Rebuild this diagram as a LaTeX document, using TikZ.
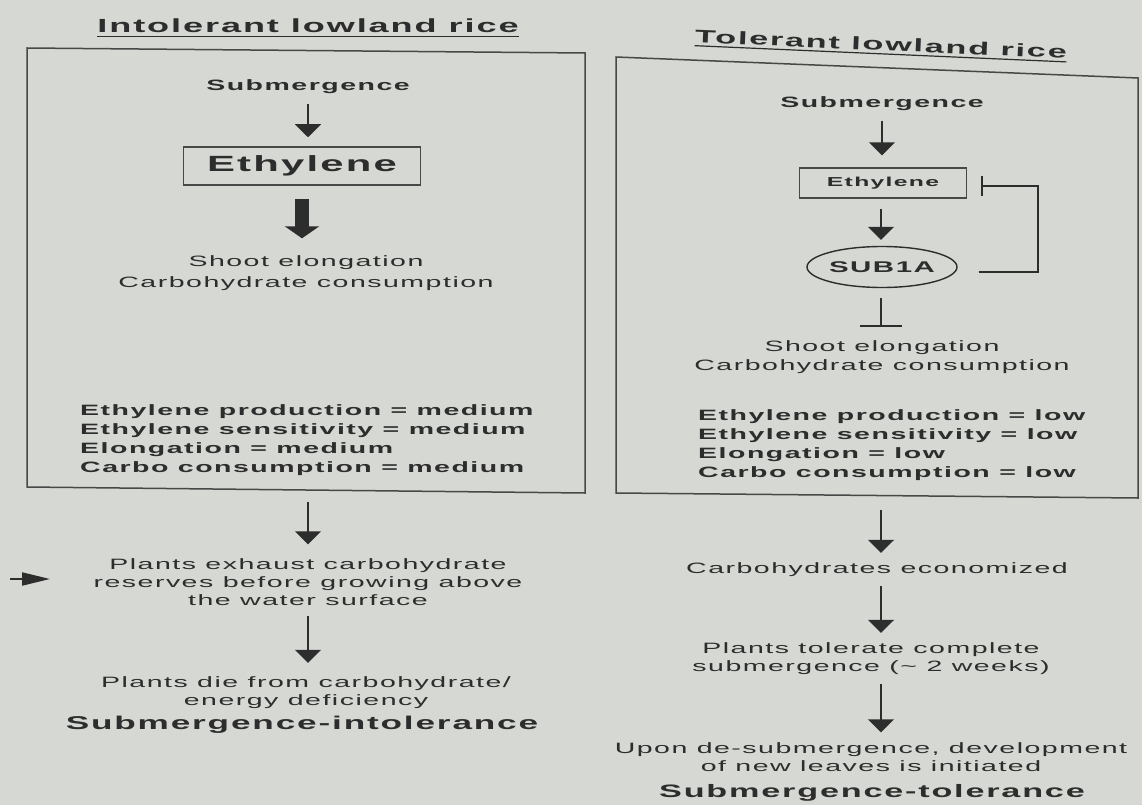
\documentclass[tikz,border=0pt]{standalone}
\usepackage{fontspec}
\setmainfont{Liberation Sans}[FakeStretch=1.9,LetterSpace=10]
\usetikzlibrary{arrows.meta,shapes.geometric}
\definecolor{bg}{RGB}{213,216,211}
\definecolor{ink}{RGB}{45,45,45}
\definecolor{boxc}{RGB}{72,72,72}
\begin{document}
\begin{tikzpicture}[x=1pt,y=-1pt,
  txt/.style={text=ink,align=center,inner sep=0pt,font=\fontsize{15}{18}\selectfont},
  btxt/.style={txt,font=\fontsize{15}{18}\selectfont\bfseries},
  stat/.style={txt,align=left,font=\fontsize{15}{19}\selectfont\bfseries},
  ttl/.style={text=ink,inner sep=0pt,font=\fontsize{19}{21}\selectfont\bfseries},
  big/.style={text=ink,inner sep=0pt,font=\fontsize{18.5}{22}\selectfont\bfseries},
  arr/.style={draw=ink,line width=1.8,-{Triangle[width=26pt,length=13pt]}},
  thick arr/.style={draw=ink,line width=14,-{Triangle[width=34pt,length=12pt]}},
  side arr/.style={draw=ink,line width=2,-{Triangle[width=13pt,length=28pt]}},
  inhib/.style={draw=ink,line width=1.6},
  frame/.style={draw=boxc,line width=1.5}]
\useasboundingbox (0,0) rectangle (1142,805);
\fill[bg] (0,0) rectangle (1142,805);

% ---------------- left column ----------------
\node[ttl] (titleL) at (308,26) {Intolerant lowland rice};
\draw[ink,line width=1.2] ([yshift=-3]titleL.south west) -- ([yshift=-3]titleL.south east);
\draw[frame] (27,48) -- (585,53) -- (585,493) -- (27,487) -- cycle;
\coordinate (boxLbot) at (308,490);

\node[btxt] (subL) at (308,87) {Submergence};
\node[draw=boxc,line width=1.5,minimum width=237,minimum height=38,inner sep=0pt,
      text=ink,font=\fontsize{22}{24}\selectfont\bfseries] (ethL) at (302,166) {Ethylene};
\node[txt,font=\fontsize{15}{21}\selectfont] (shootL) at (306,273) {Shoot elongation\\Carbohydrate consumption};
\node[stat,anchor=west] (statsL) at (80,440) {Ethylene production = medium\\Ethylene sensitivity = medium\\Elongation = medium\\Carbo consumption = medium};
\node[txt] (plantsL) at (308,582) {Plants exhaust carbohydrate\\reserves before growing above\\the water surface};
\node[txt] (dieL) at (306,693) {Plants die from carbohydrate/\\energy deficiency};
\node[big] (intolL) at (302,725) {Submergence-intolerance};

\draw[arr,shorten <=10,shorten >=9] (subL.south) -- (subL.south |- ethL.north);
\draw[thick arr,shorten <=13,shorten >=17] (ethL.south) -- (ethL.south |- shootL.north);
\draw[arr,shorten <=12,shorten >=14] (boxLbot) -- (boxLbot |- plantsL.north);
\draw[arr,shorten <=10,shorten >=14] (plantsL.south) -- (plantsL.south |- dieL.north);
\coordinate (sideA) at (10,579);
\coordinate (sideB) at (50,579);
\draw[side arr] (sideA) -- (sideB);

% ---------------- right column ----------------
\node[ttl,font=\fontsize{18}{20}\selectfont\bfseries,rotate=-2.5] (titleR) at (881,44) {Tolerant lowland rice};
\draw[ink,line width=1.2,rotate around={-2.5:(titleR.center)}] ([yshift=-3]titleR.south west) -- ([yshift=-3]titleR.south east);
\draw[frame] (616,57) -- (1138,78) -- (1138,498) -- (616,493) -- cycle;
\coordinate (boxRbot) at (881,496);

\node[btxt] (subR) at (882,104) {Submergence};
\node[draw=boxc,line width=1.4,minimum width=167,minimum height=30,inner sep=0pt,
      text=ink,font=\fontsize{13}{15}\selectfont\bfseries] (ethR) at (883,183) {Ethylene};
\node[ellipse,draw=ink,line width=1.4,minimum width=150,minimum height=41,inner sep=0pt,
      text=ink,font=\fontsize{15.5}{17}\selectfont\bfseries] (sub1a) at (882,267) {SUB1A};
\node[txt,font=\fontsize{15}{19}\selectfont] (shootR) at (882,357) {Shoot elongation\\Carbohydrate consumption};
\node[stat,anchor=west] (statsR) at (698,445) {Ethylene production = low\\Ethylene sensitivity = low\\Elongation = low\\Carbo consumption = low};
\node[txt] (econ) at (877,570) {Carbohydrates economized};
\node[txt] (tolR) at (871,659) {Plants tolerate complete\\submergence (\textasciitilde{} 2 weeks)};
\node[txt] (upon) at (871,757) {Upon de-submergence, development\\of new leaves is initiated};
\node[big,font=\fontsize{18}{22}\selectfont\bfseries] (tolerance) at (872,793) {Submergence-tolerance};

\coordinate (barEnd) at (881,327);
\coordinate (loopA) at (1038,272);
\coordinate (loopB) at (1038,186);
\coordinate (barR) at (981,186);
\draw[arr,shorten <=10,shorten >=12] (subR.south) -- (subR.south |- ethR.north);
\draw[arr,shorten <=10,shorten >=6] (ethR.south -| barEnd) -- (barEnd |- sub1a.north);
\draw[inhib,-{Bar[width=42pt]},shorten <=10] (sub1a.south -| barEnd) -- (barEnd);
\draw[inhib,-{Bar[width=19pt]},shorten <=21] (sub1a.east |- loopA) -- (loopA) -- (loopB) -- (barR);
\draw[arr,shorten <=14,shorten >=10] (boxRbot) -- (boxRbot |- econ.north);
\draw[arr,shorten <=9,shorten >=10] (econ.south -| boxRbot) -- (boxRbot |- tolR.north);
\draw[arr,shorten <=9,shorten >=10] (tolR.south -| boxRbot) -- (boxRbot |- upon.north);
\end{tikzpicture}
\end{document}
